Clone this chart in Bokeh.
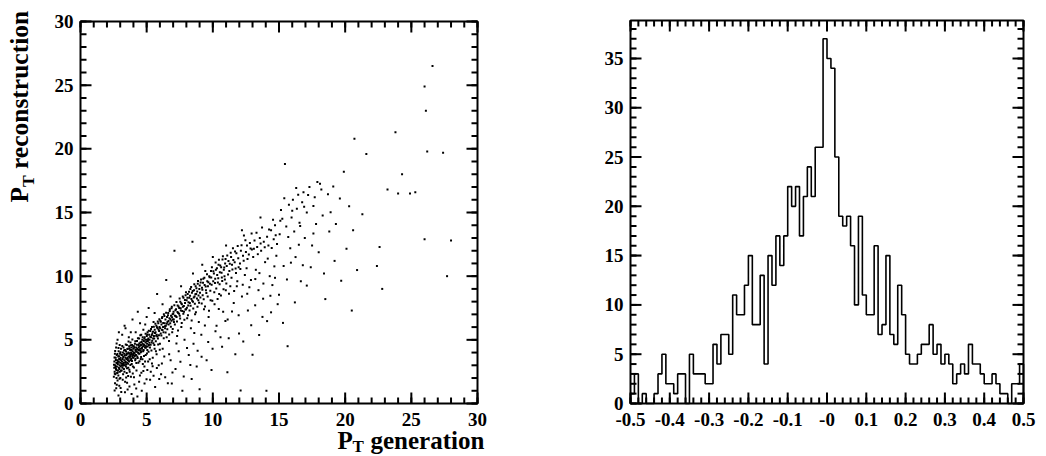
import math
from bokeh.plotting import figure
from bokeh.models import Range1d
from bokeh.core.properties import value
from bokeh.embed import file_html
from bokeh.resources import INLINE

FONT = "Liberation Serif"

# (P_T generation, P_T reconstruction) pairs
scatter_pts = [
    (2.52,2.1),(2.55,2.8),(2.56,3.3),(2.58,2.5),(2.6,3.9),(2.61,1.6),(2.63,3.0),(2.64,2.3),(2.66,3.6),(2.68,2.7),
    (2.69,4.4),(2.7,1.2),(2.71,3.2),(2.72,2.0),(2.74,3.8),(2.75,2.9),(2.77,2.4),(2.78,3.4),(2.8,5.0),(2.8,1.8),
    (2.82,3.1),(2.83,2.6),(2.85,3.7),(2.86,2.2),(2.88,4.1),(2.89,3.3),(2.9,2.8),(2.92,3.5),(2.93,1.4),(2.95,3.0),
    (2.96,4.6),(2.97,2.5),(2.99,3.9),(3.0,3.2),(3.01,2.0),(3.03,3.6),(3.04,2.9),(3.06,4.3),(3.07,3.4),(3.08,0.9),
    (3.1,3.0),(3.11,2.6),(3.13,3.8),(3.14,3.3),(3.15,5.4),(3.17,2.8),(3.18,3.5),(3.2,4.0),(3.21,3.1),(3.22,2.3),
    (3.24,3.7),(3.25,4.4),(3.27,3.2),(3.28,2.7),(3.3,3.9),(3.31,3.4),(3.33,6.1),(3.34,3.0),(3.36,4.2),(3.37,1.7),
    (3.4,3.6),(3.41,3.3),(3.43,2.9),(3.44,4.1),(3.46,3.8),(3.47,3.5),(3.49,2.4),(3.5,4.6),(3.52,3.2),(3.53,3.9),
    (3.55,3.6),(3.56,1.1),(3.58,4.3),(3.59,3.4),(3.61,2.8),(3.62,4.0),(3.64,3.7),(3.65,5.2),(3.67,3.3),(3.68,4.5),
    (3.7,3.9),(3.72,2.5),(3.73,3.6),(3.75,4.2),(3.76,3.4),(3.78,4.8),(3.79,3.8),(3.81,2.1),(3.82,4.0),(3.84,3.5),
    (3.85,4.4),(3.87,3.1),(3.88,3.9),(3.9,4.6),(3.91,3.7),(3.93,6.6),(3.94,4.1),(3.96,2.9),(3.97,3.8),(3.99,4.3),
    (4.01,3.6),(4.03,4.5),(4.05,4.0),(4.07,1.5),(4.09,3.9),(4.11,4.7),(4.13,3.4),(4.15,4.2),(4.17,5.6),(4.19,3.8),
    (4.21,4.4),(4.23,2.6),(4.25,4.1),(4.27,4.9),(4.29,3.7),(4.31,4.3),(4.33,7.2),(4.35,4.0),(4.37,3.2),(4.39,4.6),
    (4.41,4.2),(4.43,5.1),(4.45,3.9),(4.47,4.5),(4.49,2.2),(4.51,4.3),(4.53,4.8),(4.55,3.5),(4.57,4.6),(4.59,5.4),
    (4.61,4.1),(4.63,1.0),(4.65,4.4),(4.67,5.0),(4.69,4.7),(4.71,3.1),(4.73,4.5),(4.75,5.8),(4.77,4.2),(4.79,4.9),
    (4.81,4.6),(4.83,2.9),(4.85,5.2),(4.87,4.4),(4.89,6.2),(4.91,4.8),(4.93,3.8),(4.95,5.0),(4.97,4.5),(4.99,1.9),
    (5.01,5.3),(5.03,4.7),(5.05,4.2),(5.07,5.6),(5.09,4.9),(5.11,3.3),(5.13,5.1),(5.15,7.5),(5.17,4.6),(5.19,5.4),
    (5.22,5.0),(5.25,4.4),(5.28,5.7),(5.31,2.5),(5.34,5.2),(5.37,4.8),(5.4,6.0),(5.43,5.5),(5.46,3.6),(5.49,5.1),
    (5.52,6.4),(5.55,5.3),(5.58,4.6),(5.61,5.8),(5.64,1.3),(5.67,5.6),(5.7,4.1),(5.73,6.1),(5.76,5.4),(5.79,8.6),
    (5.82,5.9),(5.85,5.1),(5.88,6.3),(5.91,3.0),(5.94,5.7),(5.97,6.0),(6.0,4.7),(6.03,6.5),(6.06,5.5),(6.09,2.3),
    (6.12,6.2),(6.15,5.8),(6.18,6.8),(6.21,4.3),(6.24,6.0),(6.27,5.6),(6.3,7.0),(6.33,3.7),(6.36,6.3),(6.39,5.9),
    (6.42,6.6),(6.45,6.1),(6.48,9.7),(6.51,5.2),(6.54,6.8),(6.57,6.4),(6.6,1.6),(6.63,7.1),(6.66,6.2),(6.69,4.9),
    (6.72,6.7),(6.75,7.4),(6.78,6.3),(6.81,3.4),(6.84,6.9),(6.87,6.5),(6.9,7.6),(6.93,5.6),(6.96,7.0),(6.99,6.6),
    (7.03,7.2),(7.06,6.4),(7.1,12.0),(7.14,6.9),(7.18,2.7),(7.22,7.4),(7.26,6.8),(7.3,5.3),(7.34,7.7),(7.38,7.1),
    (7.42,4.1),(7.46,7.5),(7.5,6.9),(7.54,8.0),(7.58,7.3),(7.62,6.0),(7.66,7.8),(7.7,1.0),(7.74,7.6),(7.78,8.3),
    (7.82,7.2),(7.86,5.0),(7.9,7.9),(7.94,8.5),(7.98,7.4),
    (8.02,8.1),(8.06,6.7),(8.1,8.6),(8.14,7.7),(8.18,3.8),(8.22,8.3),(8.26,7.9),(8.3,9.0),(8.34,5.9),(8.38,8.2),
    (8.42,8.7),(8.46,12.7),(8.5,8.0),(8.54,4.7),(8.58,8.9),(8.62,8.4),(8.66,7.0),(8.7,9.2),(8.74,8.6),(8.78,2.9),
    (8.82,8.8),(8.86,9.4),(8.9,8.1),(8.94,6.4),(8.98,9.0),
    (9.03,8.7),(9.08,9.5),(9.13,5.4),(9.18,9.1),(9.23,8.5),(9.28,9.8),(9.33,7.4),(9.38,9.3),(9.43,10.4),(9.48,8.9),
    (9.53,3.4),(9.58,9.6),(9.63,9.2),(9.68,6.8),(9.73,10.0),(9.78,9.4),(9.83,8.1),(9.88,9.9),(9.93,10.7),(9.98,4.3),
    (10.03,9.6),(10.08,10.2),(10.13,7.8),(10.18,9.8),(10.23,10.5),(10.28,6.1),(10.33,10.1),(10.38,9.5),(10.43,10.9),(10.48,8.6),
    (10.53,10.3),(10.58,5.2),(10.63,10.7),(10.68,9.9),(10.73,11.3),(10.78,7.2),(10.83,10.5),(10.88,10.0),(10.93,11.0),(10.98,8.9),
    (11.05,10.8),(11.12,6.6),(11.18,11.2),(11.25,10.4),(11.32,9.2),(11.38,11.5),(11.45,10.9),(11.52,12.2),(11.58,7.9),(11.65,11.1),
    (11.72,10.6),(11.78,11.8),(11.85,9.6),(11.92,11.4),(11.98,5.5),
    (12.05,11.0),(12.12,12.0),(12.2,8.4),(12.28,11.6),(12.35,13.2),(12.42,10.1),(12.5,11.9),(12.58,12.4),(12.65,7.3),(12.72,11.7),
    (12.8,12.6),(12.88,9.7),(12.95,12.1),
    (13.05,11.5),(13.15,12.8),(13.25,10.5),(13.35,12.3),(13.45,8.9),(13.55,13.0),(13.65,12.0),(13.75,6.8),(13.85,12.7),(13.95,11.1),
    (14.05,1.0),(14.1,13.1),(14.2,12.4),(14.3,10.0),(14.4,13.6),(14.5,9.3),(14.6,12.9),(14.7,14.0),(14.8,11.6),(14.9,7.8),
    (15.05,13.3),(15.15,15.2),(15.25,14.5),(15.35,10.8),(15.45,18.8),(15.55,13.9),(15.65,4.5),(15.75,15.6),(15.85,12.2),(15.95,14.6),
    (16.05,16.0),(16.15,13.5),(16.25,11.5),(16.35,15.3),(16.45,16.4),(16.55,14.2),(16.65,9.6),(16.75,15.8),(16.85,16.6),(16.95,13.0),
    (17.1,15.0),(17.3,17.0),(17.5,12.4),(17.7,16.2),(17.9,17.4),(17.4,10.7),(17.8,14.1),
    (18.2,16.8),(18.5,8.2),(18.8,13.5),(19.2,11.2),(19.6,16.1),(19.9,18.2),
    (20.3,15.5),(20.5,7.3),(20.7,20.8),(20.6,13.6),(21.6,19.6),(22.4,10.8),(22.6,12.3),(22.8,9.0),(23.2,16.8),(23.8,21.3),
    (24.0,16.5),(24.3,18.0),(24.9,16.5),(25.3,16.6),(26.0,24.9),(26.1,23.0),(26.2,19.8),(26.0,12.9),(26.6,26.5),(27.4,19.7),
    (28.0,12.8),(27.7,10.0),
    # denser core and band
    (2.53,3.05),(2.57,3.62),(2.59,2.34),(2.62,4.12),(2.65,2.86),(2.67,3.41),(2.71,2.63),(2.73,4.71),(2.76,3.19),(2.79,3.88),
    (2.81,2.44),(2.84,3.27),(2.87,4.36),(2.91,3.72),(2.94,2.71),(2.98,3.47),(3.02,4.02),(3.05,2.58),(3.09,3.83),(3.12,3.14),
    (3.16,4.51),(3.19,2.97),(3.23,3.64),(3.26,3.03),(3.29,4.17),(3.32,2.49),(3.35,3.76),(3.38,3.21),(3.42,4.63),(3.45,3.06),
    (3.48,3.92),(3.51,2.77),(3.54,4.28),(3.57,3.51),(3.6,3.13),(3.63,4.86),(3.66,3.95),(3.69,2.66),(3.71,4.33),(3.74,3.71),
    (3.77,3.02),(3.8,4.57),(3.83,3.86),(3.86,4.21),(3.89,3.33),(3.92,5.03),(3.95,3.61),(3.98,4.48),(4.02,3.97),(4.04,2.83),
    (4.08,4.37),(4.1,3.73),(4.14,4.88),(4.16,3.52),(4.2,4.06),(4.22,3.18),(4.26,4.62),(4.28,4.27),(4.32,3.58),(4.34,5.12),
    (4.38,3.93),(4.4,4.41),(4.44,4.72),(4.46,3.31),(4.5,4.17),(4.52,5.36),(4.56,4.02),(4.58,3.66),(4.62,4.83),(4.64,4.29),
    (4.68,3.47),(4.7,5.21),(4.74,4.11),(4.76,4.64),(4.8,3.74),(4.82,5.08),(4.86,4.53),(4.88,3.29),(4.92,5.47),(4.94,4.38),
    (4.98,4.86),(5.02,3.93),(5.04,5.42),(5.08,4.48),(5.1,5.02),(5.14,4.07),(5.16,5.71),(5.2,4.77),(5.23,3.48),(5.27,5.24),
    (5.3,4.61),(5.33,5.86),(5.36,4.16),(5.39,5.37),(5.42,4.93),(5.45,2.92),(5.48,5.63),(5.51,4.74),(5.54,6.03),(5.57,5.11),
    (5.6,4.29),(5.63,5.54),(5.66,6.26),(5.69,4.88),(5.72,5.32),(5.75,3.87),(5.78,5.98),(5.81,5.27),(5.84,6.44),(5.87,4.63),
    (5.9,5.81),(5.93,5.36),(5.96,6.62),(5.99,4.23),
    (2.58,1.03),(2.74,1.47),(2.87,0.63),(3.03,1.22),(3.19,1.86),(3.36,0.88),(3.52,1.63),(3.7,1.34),(3.86,0.74),(4.04,2.07),
    (4.21,1.18),(4.43,1.71),(4.6,2.41),(4.84,1.57),(5.05,2.63),(5.26,1.86),(5.52,2.17),(5.77,2.78),(5.95,1.92),(4.3,0.55),
    (3.6,2.15),(2.95,1.95),(3.45,2.05),(3.95,2.35),(4.75,2.55),(5.4,3.15),
    (6.02,5.91),(6.07,6.42),(6.11,5.34),(6.16,6.71),(6.2,5.77),(6.25,6.33),(6.29,5.12),(6.34,6.88),(6.38,6.07),(6.43,5.58),
    (6.47,7.13),(6.52,6.27),(6.56,5.84),(6.61,6.93),(6.65,6.48),(6.7,5.41),(6.74,7.26),(6.79,6.61),(6.83,6.03),(6.88,7.48),
    (6.92,6.77),(6.97,5.86),(7.01,7.04),(7.05,6.59),(7.09,7.71),(7.13,6.21),(7.17,7.33),(7.21,6.86),(7.25,7.97),(7.29,6.44),
    (7.33,7.19),(7.37,5.73),(7.41,7.62),(7.45,7.05),(7.49,8.24),(7.53,6.68),(7.57,7.49),(7.61,7.88),(7.65,6.32),(7.69,7.27),
    (7.73,8.41),(7.77,7.04),(7.81,7.66),(7.85,6.57),(7.89,8.12),(7.93,7.38),(7.97,8.73),
    (8.04,7.52),(8.08,8.31),(8.12,6.93),(8.16,7.96),(8.2,8.77),(8.24,7.31),(8.28,8.47),(8.32,7.68),(8.36,9.14),(8.4,6.52),
    (8.44,8.06),(8.48,8.84),(8.52,7.46),(8.56,8.33),(8.6,9.37),(8.64,7.83),(8.68,8.58),(8.72,7.17),(8.76,9.06),(8.8,8.24),
    (8.84,7.59),(8.88,9.62),(8.92,8.49),(8.96,7.91),
    (9.01,9.27),(9.06,8.32),(9.11,9.74),(9.16,7.86),(9.21,8.93),(9.26,9.48),(9.31,8.18),(9.36,9.87),(9.41,7.62),(9.46,9.19),
    (9.51,8.67),(9.56,10.16),(9.61,8.41),(9.66,9.53),(9.71,7.28),(9.76,9.91),(9.81,8.86),(9.86,10.41),(9.91,9.33),(9.96,8.07),
    (10.04,10.38),(10.11,8.73),(10.16,9.47),(10.21,11.07),(10.26,9.04),(10.31,10.62),(10.36,8.21),(10.41,9.83),(10.46,11.28),(10.51,9.36),
    (10.56,10.84),(10.61,8.49),(10.66,10.27),(10.71,9.63),(10.76,11.56),(10.81,8.97),(10.86,10.68),(10.91,9.74),(10.96,11.34),
    (11.02,9.42),(11.09,11.62),(11.15,10.13),(11.22,8.62),(11.28,10.97),(11.35,11.84),(11.41,9.87),(11.48,10.53),(11.55,11.27),(11.61,8.84),
    (11.68,11.93),(11.75,10.24),(11.81,9.21),(11.88,12.37),(11.95,10.71),
    (12.08,10.56),(12.17,12.43),(12.26,9.33),(12.33,11.21),(12.46,12.83),(12.55,10.62),(12.62,11.34),(12.76,9.12),(12.85,12.17),(12.93,13.36),
    (13.1,12.16),(13.21,9.77),(13.3,13.41),(13.4,11.73),(13.52,10.24),(13.61,12.56),(13.72,13.83),(13.82,9.42),(13.92,12.28),
    (14.15,11.38),(14.25,13.67),(14.35,8.46),(14.45,12.21),(14.55,14.43),(14.65,10.77),(14.75,13.22),(14.85,12.53),
    (6.15,3.14),(6.4,2.06),(6.7,3.86),(6.95,2.44),(7.25,4.72),(7.55,3.27),(7.8,2.12),(8.05,4.36),(8.3,3.02),(8.6,5.54),
    (8.85,4.14),(9.15,3.67),(9.4,6.12),(9.65,4.83),(9.9,2.64),(10.2,5.67),(10.45,7.43),(10.7,4.46),(10.95,6.47),(11.2,5.13),
    (11.45,7.22),(11.7,3.86),(11.95,6.93),(12.3,4.87),(12.6,8.62),(12.9,6.14),(13.2,7.71),(13.5,5.38),(13.8,8.23),(14.1,6.47),
    (14.4,7.16),(14.7,9.87),(15.0,8.54),(15.3,6.33),(15.6,9.74),(15.9,11.06),(16.2,7.94),(16.5,12.47),(16.8,10.86),(17.1,9.26),
    (17.6,13.36),(18.0,11.87),(18.4,10.21),(18.9,15.02),(19.3,14.1),(19.7,9.64),(20.1,12.16),(20.9,10.48),(21.3,14.86),
    (6.9,1.58),(8.4,1.93),(9.0,1.12),(11.1,2.46),(12.1,1.03),(13.0,3.82),
    (15.1,14.36),(15.4,16.12),(15.7,13.08),(16.0,15.13),(16.3,16.92),(16.6,13.93),(16.9,15.46),(17.2,16.38),(17.6,15.52),(18.1,17.26),
    (18.3,14.77),(18.7,16.43),(19.1,17.04),
    (2.9,5.6),(3.4,5.9),(3.8,5.6),(4.5,6.3),(5.0,6.8),(5.6,7.1),(6.2,7.8),(6.8,8.4),(7.6,9.2),(8.5,10.2),
    (9.2,10.9),(10.0,11.5),(11.0,12.4),(12.2,13.6),(13.6,14.6),
]
gen_pt = [q[0] for q in scatter_pts]
reco_pt = [q[1] for q in scatter_pts]

# 100-bin histogram from -0.5 to 0.5
hist_counts = [
    1, 3, 0, 1, 0, 0, 1, 3, 5, 2,
    2, 1, 3, 3, 0, 5, 3, 3, 3, 2,
    2, 6, 4, 7, 7, 5, 11, 9, 9, 12,
    15, 8, 8, 13, 4, 15, 12, 17, 14, 17,
    22, 20, 22, 17, 21, 24, 21, 26, 26, 37,
    35, 34, 25, 19, 18, 19, 16, 10, 19, 11,
    9, 9, 16, 7, 8, 15, 7, 6, 12, 9,
    5, 4, 4, 5, 6, 6, 8, 5, 6, 4,
    5, 4, 2, 3, 4, 3, 6, 4, 4, 3,
    2, 2, 3, 2, 1, 1, 0, 2, 2, 4,
]
hist_range = (-0.5, 0.5)

left_ticks = [0, 5, 10, 15, 20, 25, 30]
left_labels = ["0", "5", "10", "15", "20", "25", "30"]
right_x_ticks = [-0.5, -0.4, -0.3, -0.2, -0.1, 0, 0.1, 0.2, 0.3, 0.4, 0.5]
right_x_labels = ["-0.5", "-0.4", "-0.3", "-0.2", "-0.1", "-0", "0.1", "0.2", "0.3", "0.4", "0.5"]
right_y_ticks = [0, 5, 10, 15, 20, 25, 30, 35]
right_y_labels = ["0", "5", "10", "15", "20", "25", "30", "35"]

W, H = 1046, 456
MAJ, MIN = 11, 6          # tick lengths, px
LBL = "19px"              # tick label size


class Box:
    """A plot box: pixel frame (x0..x1, y0 top..y1 bottom) and its data ranges."""

    def __init__(self, x0, x1, y0, y1, xr, yr, name=None):
        self.x0, self.x1, self.y0, self.y1 = x0, x1, y0, y1
        self.xr, self.yr = xr, yr
        self.sx = (x1 - x0) / (xr[1] - xr[0])
        self.sy = (y1 - y0) / (yr[1] - yr[0])
        self.kw = dict(x_range_name=name, y_range_name=name) if name else {}

    def full_x(self):
        return Range1d(self.xr[0] - self.x0 / self.sx, self.xr[0] + (W - self.x0) / self.sx)

    def full_y(self):
        return Range1d(self.yr[0] - (H - self.y1) / self.sy, self.yr[0] + self.y1 / self.sy)

    def X(self, px):
        return self.xr[0] + (px - self.x0) / self.sx

    def Y(self, py):
        return self.yr[0] + (self.y1 - py) / self.sy


ymax = max(hist_counts) * 1.05
L = Box(80, 477, 21, 403, (0, 30), (0, 30))
R = Box(630, 1023, 20, 403, hist_range, (0, ymax), name="h")

p = figure(width=W, height=H, min_border=0, title=None,
           x_range=L.full_x(), y_range=L.full_y(),
           x_axis_location=None, y_axis_location=None,
           output_backend="svg", toolbar_location=None, tools="")
p.extra_x_ranges = {"h": R.full_x()}
p.extra_y_ranges = {"h": R.full_y()}
p.grid.visible = False
p.outline_line_color = None
p.background_fill_color = "white"
p.border_fill_color = "white"


def txt(b, xs, ys, texts, size, align="left", angle=0.0):
    # anchor = vertical middle of the glyph box
    p.text(x=xs, y=ys, text=texts, text_font=value(FONT), text_font_style="bold",
           text_font_size=size, text_color="black", text_align=align,
           text_baseline="middle", angle=angle, **b.kw)


def draw_frame(b, xmaj, xmin, ymaj, ymin, xlabels, ylabels):
    (xa, xb), (ya, yb) = b.xr, b.yr
    seg = dict(line_color="black", line_width=2, **b.kw)
    for ticks, ln in ((xmaj, MAJ), (xmin, MIN)):
        n = len(ticks)
        p.segment(x0=ticks, y0=[ya] * n, x1=ticks, y1=[ya + ln / b.sy] * n, **seg)
        p.segment(x0=ticks, y0=[yb] * n, x1=ticks, y1=[yb - ln / b.sy] * n, **seg)
    for ticks, ln in ((ymaj, MAJ), (ymin, MIN)):
        n = len(ticks)
        p.segment(x0=[xa] * n, y0=ticks, x1=[xa + ln / b.sx] * n, y1=ticks, **seg)
        p.segment(x0=[xb] * n, y0=ticks, x1=[xb - ln / b.sx] * n, y1=ticks, **seg)
    p.quad(left=[xa], right=[xb], bottom=[ya], top=[yb], fill_color=None,
           line_color="black", line_width=2, **b.kw)
    txt(b, xmaj, [b.Y(b.y1 + 15.5)] * len(xmaj), xlabels, LBL, align="center")
    txt(b, [b.X(b.x0 - 7)] * len(ymaj), ymaj, ylabels, LBL, align="right")


# ---------------- left: scatter ----------------
draw_frame(L, left_ticks, list(range(0, 31)), left_ticks, list(range(0, 31)), left_labels, left_labels)
p.scatter(gen_pt, reco_pt, marker="square", size=2, fill_color="black", line_color=None)

txt(L, [L.X(337)], [L.Y(440)], ["P"], "25px")
txt(L, [L.X(352)], [L.Y(446)], ["T"], "17px")
txt(L, [L.X(370)], [L.Y(440)], ["generation"], "25px")
txt(L, [L.X(19)], [L.Y(202)], ["P"], "25.5px", angle=math.pi / 2)
txt(L, [L.X(27.5)], [L.Y(186.5)], ["T"], "17.5px", angle=math.pi / 2)
txt(L, [L.X(19)], [L.Y(168.5)], ["reconstruction"], "25.5px", angle=math.pi / 2)

# ---------------- right: histogram ----------------
rx_minor = [round(-0.5 + 0.02 * i, 2) for i in range(51)]
ry_minor = list(range(0, 39))
draw_frame(R, right_x_ticks, rx_minor, right_y_ticks, ry_minor, right_x_labels, right_y_labels)

nb = len(hist_counts)
bw = (hist_range[1] - hist_range[0]) / nb
edges = [hist_range[0] + i * bw for i in range(nb + 1)]
hx, hy = [edges[0]], [0]
for i, c in enumerate(hist_counts):
    hx += [edges[i], edges[i + 1]]
    hy += [c, c]
hx.append(edges[-1])
hy.append(0)
p.line(hx, hy, line_color="black", line_width=1.6, x_range_name="h", y_range_name="h")

open("out.html", "w").write(file_html(p, INLINE))
